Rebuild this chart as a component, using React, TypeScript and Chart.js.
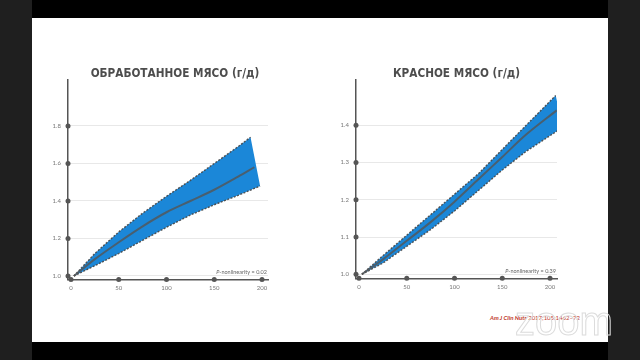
import { useEffect, useRef } from "react";
import { Chart, registerables } from "chart.js";

Chart.register(...registerables);

// ---------- data ----------
const xTicks = [0, 50, 100, 150, 200];

const procTitle = "ОБРАБОТАННОЕ МЯСО (г/д)";
const procYTicks = [1.0, 1.2, 1.4, 1.6, 1.8];
const procUpperX = [3, 25, 50, 75, 100, 125, 150, 175, 188];
const procUpper = [1.0, 1.12, 1.235, 1.335, 1.425, 1.51, 1.6, 1.69, 1.74];
const procLowerX = [3, 25, 50, 75, 100, 125, 150, 175, 198];
const procLower = [1.0, 1.055, 1.12, 1.19, 1.26, 1.325, 1.38, 1.43, 1.48];
const procCenterX = [3, 25, 50, 75, 100, 125, 150, 175, 192];
const procCenter = [1.0, 1.09, 1.18, 1.265, 1.34, 1.4, 1.46, 1.53, 1.58];
const procP = "0.02";

const redTitle = "КРАСНОЕ МЯСО (г/д)";
const redYTicks = [1.0, 1.1, 1.2, 1.3, 1.4];
const redUpperX = [3, 25, 50, 75, 100, 125, 150, 175, 206];
const redUpper = [1.0, 1.05, 1.105, 1.16, 1.215, 1.27, 1.335, 1.4, 1.48];
const redLowerX = [3, 25, 50, 75, 100, 125, 150, 175, 213];
const redLower = [1.0, 1.03, 1.075, 1.12, 1.17, 1.225, 1.28, 1.33, 1.394];
const redCenterX = [3, 25, 50, 75, 100, 125, 150, 175, 207];
const redCenter = [1.0, 1.04, 1.09, 1.14, 1.195, 1.255, 1.315, 1.375, 1.44];
const redP = "0.39";

const citationBold = "Am J Clin Nutr";
const citationRest = " 2017;105:1462–72";

// ---------- styles ----------
const BLUE = "#1b87d8";
const AXIS = "#555555";
const DASH = "rgba(70,70,70,0.9)";
const CENTER = "rgba(85,85,85,0.8)";
const TICK = "#777777";
const TITLE_FONT = '"Liberation Sans Narrow", "DejaVu Sans Condensed", sans-serif';

type Cfg = {
  title: string;
  yTicks: number[];
  upperX: number[];
  upper: number[];
  lowerX: number[];
  lower: number[];
  centerX: number[];
  center: number[];
  pValue: string;
  xMin: number;
  xMax: number;
  yMin: number;
  yMax: number;
  left: number;
  width: number;
  yW: number;
  rW: number;
  xH: number;
};

const pts = (xs: number[], ys: number[]) => xs.map((x, i) => ({ x, y: ys[i] }));

const decorPlugin = {
  id: "decor",
  afterDraw(chart: any, _args: any, opts: any) {
    const { ctx, chartArea, scales } = chart;
    ctx.save();
    ctx.fillStyle = AXIS;
    for (const t of scales.x.ticks) {
      const px = scales.x.getPixelForValue(t.value);
      ctx.beginPath();
      ctx.arc(px, chartArea.bottom, 2.5, 0, Math.PI * 2);
      ctx.fill();
    }
    for (const t of scales.y.ticks) {
      const py = scales.y.getPixelForValue(t.value);
      ctx.beginPath();
      ctx.arc(chartArea.left, py, 2.5, 0, Math.PI * 2);
      ctx.fill();
    }
    // P-nonlinearity note
    const rest = "-nonlinearity = " + opts.pValue;
    ctx.fillStyle = "#666";
    ctx.textBaseline = "alphabetic";
    ctx.font = "5.5px Lato, sans-serif";
    const wRest = ctx.measureText(rest).width;
    const right = chartArea.right - 1;
    const base = chartArea.bottom - 5.5;
    ctx.textAlign = "left";
    ctx.fillText(rest, right - wRest, base);
    ctx.font = "italic 5.5px Lato, sans-serif";
    const wP = ctx.measureText("P").width;
    ctx.fillText("P", right - wRest - wP, base);
    ctx.restore();
  },
};

function buildConfig(c: Cfg): any {
  const upperPts = pts(c.upperX, c.upper);
  const lowerPts = pts(c.lowerX, c.lower);
  const centerPts = pts(c.centerX, c.center);
  const band = [...upperPts, ...lowerPts.slice().reverse()];
  const common = { showLine: true, pointRadius: 0, pointHoverRadius: 0, yAxisID: "y", xAxisID: "x" };
  return {
    type: "scatter",
    data: {
      datasets: [
        { ...common, data: band, fill: "shape", backgroundColor: BLUE, borderWidth: 0, borderColor: BLUE, order: 4 },
        { ...common, data: upperPts, fill: false, borderColor: DASH, borderWidth: 1.4, borderDash: [2, 1.5], order: 2 },
        { ...common, data: lowerPts, fill: false, borderColor: DASH, borderWidth: 1.4, borderDash: [2, 1.5], order: 3 },
        { ...common, data: centerPts, fill: false, borderColor: CENTER, borderWidth: 2, cubicInterpolationMode: "monotone", order: 1 },
      ],
    },
    options: {
      animation: false,
      responsive: false,
      devicePixelRatio: 1,
      events: [],
      layout: { padding: 0 },
      plugins: {
        legend: { display: false },
        tooltip: { enabled: false },
        title: {
          display: true,
          text: c.title,
          color: "#4d4d4d",
          font: { family: TITLE_FONT, size: 11.7, weight: "bold", lineHeight: 0.8 },
          padding: { top: 9.32, bottom: 1.32 },
        },
        decor: { pValue: c.pValue },
      },
      scales: {
        x: {
          type: "linear",
          min: c.xMin,
          max: c.xMax,
          afterBuildTicks: (s: any) => {
            s.ticks = xTicks.map((v) => ({ value: v }));
          },
          afterFit: (s: any) => {
            s.height = c.xH;
          },
          grid: { display: false, drawTicks: false },
          border: { display: true, color: AXIS, width: 1.5 },
          ticks: {
            padding: 5,
            color: TICK,
            font: { family: "Lato", size: 6 },
            callback: (v: any) => String(v),
          },
        },
        y: {
          type: "linear",
          position: "left",
          min: c.yMin,
          max: c.yMax,
          afterBuildTicks: (s: any) => {
            s.ticks = c.yTicks.map((v) => ({ value: v }));
          },
          afterFit: (s: any) => {
            s.width = c.yW;
          },
          grid: { color: "#e8e8e8", lineWidth: 1, drawTicks: false },
          border: { display: true, color: AXIS, width: 1.5 },
          ticks: {
            padding: 7,
            color: TICK,
            font: { family: "Lato", size: 6 },
            callback: (v: any) => Number(v).toFixed(1),
          },
        },
        yR: {
          type: "linear",
          position: "right",
          display: true,
          grid: { display: false, drawTicks: false },
          border: { display: false },
          ticks: { display: false },
          afterFit: (s: any) => {
            s.width = c.rW;
          },
        },
      },
    },
    plugins: [decorPlugin],
  };
}

const procCfg: Cfg = {
  title: procTitle,
  yTicks: procYTicks,
  upperX: procUpperX,
  upper: procUpper,
  lowerX: procLowerX,
  lower: procLower,
  centerX: procCenterX,
  center: procCenter,
  pValue: procP,
  xMin: -3.14,
  xMax: 206.28,
  yMin: 0.98133,
  yMax: 2.04533,
  left: 40,
  width: 270,
  yW: 28,
  rW: 42,
  xH: 20.5,
};

const redCfg: Cfg = {
  title: redTitle,
  yTicks: redYTicks,
  upperX: redUpperX,
  upper: redUpper,
  lowerX: redLowerX,
  lower: redLower,
  centerX: redCenterX,
  center: redCenter,
  pValue: redP,
  xMin: -3.14,
  xMax: 207.3,
  yMin: 0.98926,
  yMax: 1.5216,
  left: 328,
  width: 257,
  yW: 28,
  rW: 28,
  xH: 21.7,
};

function ChartBox({ cfg }: { cfg: Cfg }) {
  const ref = useRef<HTMLCanvasElement | null>(null);
  useEffect(() => {
    const chart = new Chart(ref.current as HTMLCanvasElement, buildConfig(cfg));
    return () => chart.destroy();
  }, [cfg]);
  return (
    <canvas
      ref={ref}
      width={cfg.width}
      height={240}
      style={{ position: "absolute", left: cfg.left, top: 60, width: cfg.width, height: 240 }}
    />
  );
}

export default function App() {
  return (
    <div
      style={{
        position: "fixed",
        left: 0,
        top: 0,
        width: 640,
        height: 360,
        background: "#1f1f1f",
        overflow: "hidden",
      }}
    >
      <div style={{ position: "absolute", left: 32, top: 0, width: 576, height: 360, background: "#000" }} />
      <div style={{ position: "absolute", left: 32, top: 18, width: 576, height: 324, background: "#fff" }} />
      <ChartBox cfg={procCfg} />
      <ChartBox cfg={redCfg} />
      <div
        style={{
          position: "absolute",
          left: 490,
          top: 314,
          fontFamily: "Lato, sans-serif",
          fontSize: 6,
          lineHeight: "8px",
          color: "#c0392b",
          whiteSpace: "nowrap",
        }}
      >
        <span style={{ fontWeight: "bold", fontStyle: "italic" }}>{citationBold}</span>
        <span>{citationRest}</span>
      </div>
      <div
        style={{
          position: "absolute",
          left: 515,
          top: 301,
          fontFamily: '"Liberation Sans", Arial, sans-serif',
          fontSize: 40,
          lineHeight: "40px",
          color: "transparent",
          WebkitTextStroke: "1px #dcdcdc",
          whiteSpace: "nowrap",
          pointerEvents: "none",
        } as any}
      >
        zoom
      </div>
    </div>
  );
}
